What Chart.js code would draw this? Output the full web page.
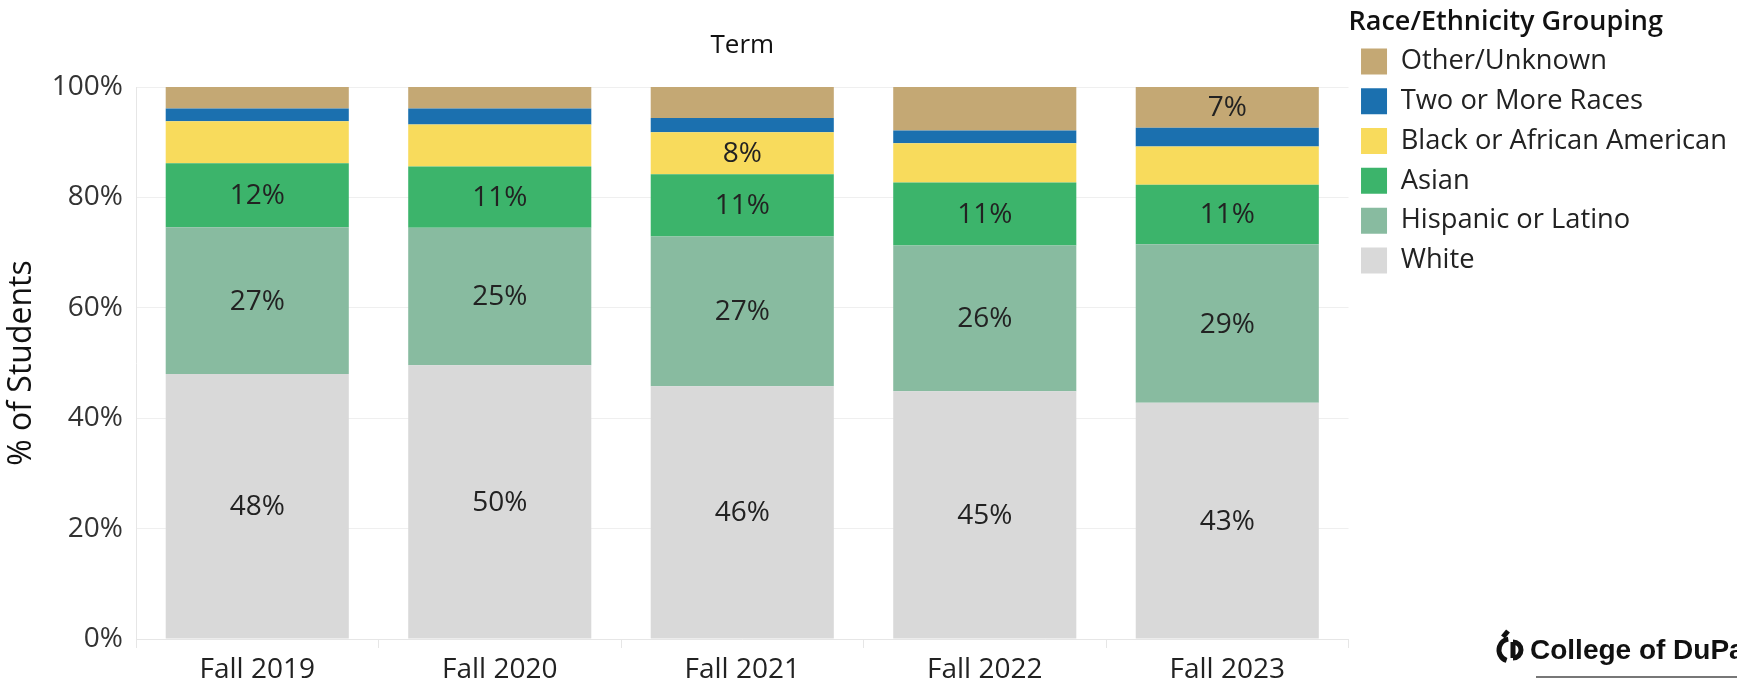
<!DOCTYPE html>
<html>
<head>
<meta charset="utf-8">
<script src="https://cdn.jsdelivr.net/npm/chart.js@4.4.1/dist/chart.umd.min.js"></script>
<style>
  html, body { margin: 0; padding: 0; background: #fff; }
  #raceChart { display: block; }
</style>
</head>
<body>
<canvas id="raceChart" width="1737" height="682"></canvas>
<script>
// terms on the x axis
const terms = ["Fall 2019", "Fall 2020", "Fall 2021", "Fall 2022", "Fall 2023"];

// share of students per group (%)
const white    = [48.0, 49.6, 45.8, 44.9, 42.8];
const hispanic = [26.6, 24.9, 27.1, 26.4, 28.7];
const asian    = [11.6, 11.1, 11.3, 11.4, 10.8];
const black    = [7.6, 7.6, 7.6, 7.1, 6.9];
const twoMore  = [2.3, 2.9, 2.6, 2.3, 3.4];
const other    = [3.9, 3.9, 5.6, 7.9, 7.4];

const yTicks = [0, 20, 40, 60, 80, 100];

// which segments carry a value label (term indexes)
const labelled = {
    "White": [0, 1, 2, 3, 4],
    "Hispanic or Latino": [0, 1, 2, 3, 4],
    "Asian": [0, 1, 2, 3, 4],
    "Black or African American": [2],
    "Two or More Races": [],
    "Other/Unknown": [4]
};

const FONT = "'Open Sans', 'Noto Sans', sans-serif";

const segLabels = {
    id: "segLabels",
    afterDatasetsDraw(chart) {
        const ctx = chart.ctx;
        ctx.save();
        ctx.font = "28px " + FONT;
        ctx.fillStyle = "#222";
        ctx.textAlign = "center";
        ctx.textBaseline = "middle";
        chart.data.datasets.forEach((ds, i) => {
            const meta = chart.getDatasetMeta(i);
            (labelled[ds.label] || []).forEach(j => {
                const bar = meta.data[j];
                ctx.fillText(Math.round(ds.data[j]) + "%", bar.x, (bar.y + bar.base) / 2 + 1);
            });
        });
        ctx.restore();
    }
};

// little college mark in the bottom right corner
const logo = {
    id: "logo",
    afterDraw(chart) {
        const ctx = chart.ctx;
        ctx.save();
        ctx.strokeStyle = "#111";
        ctx.lineWidth = 5;
        ctx.beginPath();
        ctx.arc(1510, 650, 11, Math.PI * 0.6, Math.PI * 1.45);
        ctx.stroke();
        ctx.beginPath();
        ctx.arc(1513, 650, 8, -Math.PI * 0.5, Math.PI * 0.5);
        ctx.moveTo(1513, 642);
        ctx.lineTo(1513, 658);
        ctx.stroke();
        ctx.beginPath();
        ctx.moveTo(1503, 637);
        ctx.lineTo(1508, 631);
        ctx.stroke();
        ctx.font = "bold 28px 'Liberation Sans', Arial, sans-serif";
        ctx.fillStyle = "#111";
        ctx.textBaseline = "middle";
        ctx.fillText("College of DuPage", 1530, 651);
        ctx.fillStyle = "#777";
        ctx.fillRect(1536, 676, 201, 2);
        ctx.restore();
    }
};

new Chart(document.getElementById("raceChart").getContext("2d"), {
    type: "bar",
    data: {
        labels: terms,
        datasets: [
            { label: "White", data: white, backgroundColor: "#d9d9d9" },
            { label: "Hispanic or Latino", data: hispanic, backgroundColor: "#88bba0" },
            { label: "Asian", data: asian, backgroundColor: "#3cb46b" },
            { label: "Black or African American", data: black, backgroundColor: "#f8db5c" },
            { label: "Two or More Races", data: twoMore, backgroundColor: "#1b70af" },
            { label: "Other/Unknown", data: other, backgroundColor: "#c4a874" }
        ]
    },
    options: {
        responsive: false,
        animation: false,
        devicePixelRatio: 1,
        layout: { padding: 0 },
        datasets: { bar: { categoryPercentage: 1, barPercentage: 0.755, borderWidth: 0 } },
        plugins: {
            title: {
                display: true,
                text: "Term",
                fullSize: false,
                color: "#111",
                font: { family: FONT, size: 26, weight: "500" },
                padding: { top: 29.5, bottom: 26.3 }
            },
            legend: {
                position: "right",
                align: "start",
                reverse: true,
                title: {
                    display: true,
                    text: "Race/Ethnicity Grouping",
                    position: "start",
                    color: "#111",
                    font: { family: FONT, size: 27, weight: "600", lineHeight: 1 },
                    padding: { top: 9, bottom: -0.7 }
                },
                labels: {
                    boxWidth: 26,
                    boxHeight: 26,
                    padding: 12.5,
                    color: "#222",
                    font: { family: FONT, size: 27.3 }
                }
            },
            tooltip: { enabled: false }
        },
        scales: {
            x: {
                stacked: true,
                grid: { offset: true, drawOnChartArea: false, tickLength: 9, color: "#e6e6e6" },
                border: { color: "#e6e6e6" },
                ticks: { color: "#222", font: { family: FONT, size: 28 }, padding: 5, maxRotation: 0 },
                afterFit(s) { s.height = 43; }
            },
            y: {
                stacked: true,
                min: 0,
                max: 100,
                afterBuildTicks(s) { s.ticks = yTicks.map(v => ({ value: v })); },
                grid: { color: "#efefef", drawTicks: false },
                border: { color: "#e6e6e6" },
                ticks: { color: "#333", font: { family: FONT, size: 28 }, padding: 13, callback: v => v + "%" },
                title: {
                    display: true,
                    text: "% of Students",
                    color: "#111",
                    font: { family: FONT, size: 32 },
                    padding: { top: 3, bottom: 0 }
                },
                afterFit(s) { s.width = 136; }
            }
        }
    },
    plugins: [segLabels, logo]
});
</script>
</body>
</html>
